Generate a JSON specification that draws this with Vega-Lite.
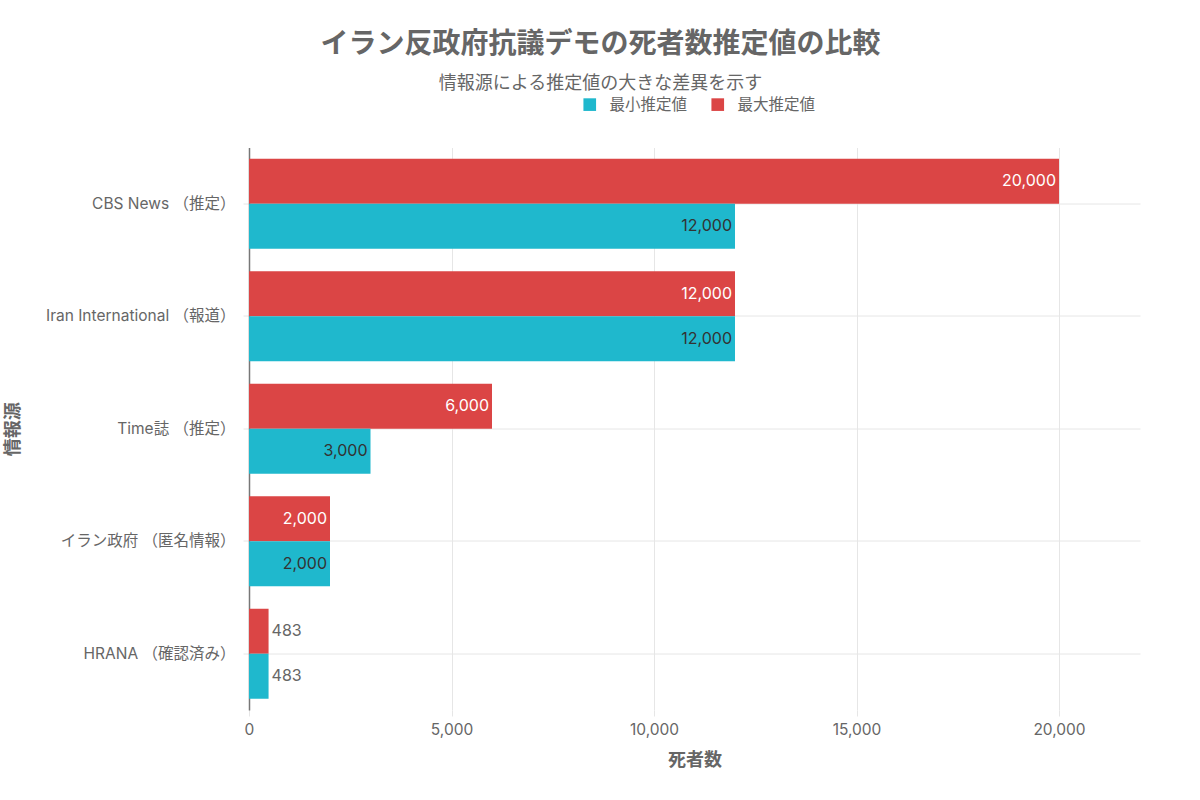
{
  "$schema": "https://vega.github.io/schema/vega-lite/v6.json",
  "width": 891,
  "height": 562.5,
  "autosize": {"type": "none"},
  "padding": {"left": 249, "top": 147.5, "right": 60, "bottom": 90},
  "background": "white",
  "title": {
    "text": "イラン反政府抗議デモの死者数推定値の比較",
    "subtitle": "情報源による推定値の大きな差異を示す",
    "anchor": "middle",
    "dx": -94,
    "offset": 4,
    "font": "Inter, Noto Sans CJK JP",
    "fontSize": 28,
    "fontWeight": "bold",
    "color": "#666666",
    "subtitleFont": "Inter, Noto Sans CJK JP",
    "subtitleFontSize": 18,
    "subtitleColor": "#666666",
    "subtitlePadding": 16
  },
  "config": {
    "view": {"stroke": null},
    "font": "Inter, Noto Sans CJK JP"
  },
  "data": {
    "values": [
      {"source": "CBS News （推定）", "type": "最大推定値", "value": 20000},
      {"source": "CBS News （推定）", "type": "最小推定値", "value": 12000},
      {"source": "Iran International （報道）", "type": "最大推定値", "value": 12000},
      {"source": "Iran International （報道）", "type": "最小推定値", "value": 12000},
      {"source": "Time誌 （推定）", "type": "最大推定値", "value": 6000},
      {"source": "Time誌 （推定）", "type": "最小推定値", "value": 3000},
      {"source": "イラン政府 （匿名情報）", "type": "最大推定値", "value": 2000},
      {"source": "イラン政府 （匿名情報）", "type": "最小推定値", "value": 2000},
      {"source": "HRANA （確認済み）", "type": "最大推定値", "value": 483},
      {"source": "HRANA （確認済み）", "type": "最小推定値", "value": 483}
    ]
  },
  "encoding": {
    "y": {
      "field": "source",
      "type": "nominal",
      "sort": null,
      "scale": {"paddingInner": 0.2, "paddingOuter": 0.1},
      "axis": {
        "title": "情報源",
        "titleFontSize": 18,
        "titleFontWeight": "bold",
        "titleColor": "#666666",
        "titleX": -227,
        "labelFontSize": 15.5,
        "labelColor": "#666666",
        "labelPadding": 8,
        "labelLimit": 320,
        "grid": true,
        "gridColor": "#e6e6e6",
        "bandPosition": 0.5,
        "domainColor": "#777777",
        "domainWidth": 1.5,
        "tickColor": "#e6e6e6",
        "tickSize": 6
      }
    },
    "yOffset": {
      "field": "type",
      "type": "nominal",
      "sort": ["最大推定値", "最小推定値"],
      "scale": {"paddingInner": 0, "paddingOuter": 0}
    },
    "x": {
      "field": "value",
      "type": "quantitative",
      "scale": {"domain": [0, 22000], "nice": false},
      "axis": {
        "title": "死者数",
        "titleFontSize": 18,
        "titleFontWeight": "bold",
        "titleColor": "#666666",
        "titlePadding": 14,
        "labelFontSize": 15.5,
        "labelColor": "#666666",
        "labelPadding": 6,
        "labelFlush": false,
        "values": [0, 5000, 10000, 15000, 20000],
        "format": ",d",
        "grid": true,
        "gridColor": "#e6e6e6",
        "domain": false,
        "tickColor": "#e6e6e6",
        "tickSize": 6
      }
    }
  },
  "layer": [
    {
      "mark": {"type": "bar"},
      "encoding": {
        "color": {
          "field": "type",
          "type": "nominal",
          "scale": {"domain": ["最小推定値", "最大推定値"], "range": ["#1FB8CD", "#DB4545"]},
          "legend": {
            "title": null,
            "orient": "none",
            "direction": "horizontal",
            "legendX": 333,
            "legendY": -51,
            "symbolType": "square",
            "symbolSize": 160,
            "symbolStrokeWidth": 0,
            "labelFontSize": 15.5,
            "labelColor": "#666666",
            "columnPadding": 22,
            "labelOffset": 12
          }
        }
      }
    },
    {
      "transform": [{"filter": "datum.value >= 1000"}],
      "mark": {"type": "text", "align": "right", "baseline": "middle", "dx": -3, "fontSize": 16},
      "encoding": {
        "text": {"field": "value", "type": "quantitative", "format": ",d"},
        "color": {
          "condition": {"test": "datum.type === '最大推定値'", "value": "#ffffff"},
          "value": "#333333"
        }
      }
    },
    {
      "transform": [{"filter": "datum.value < 1000"}],
      "mark": {"type": "text", "align": "left", "baseline": "middle", "dx": 3, "fontSize": 16, "color": "#666666"},
      "encoding": {
        "text": {"field": "value", "type": "quantitative", "format": ",d"}
      }
    }
  ]
}
